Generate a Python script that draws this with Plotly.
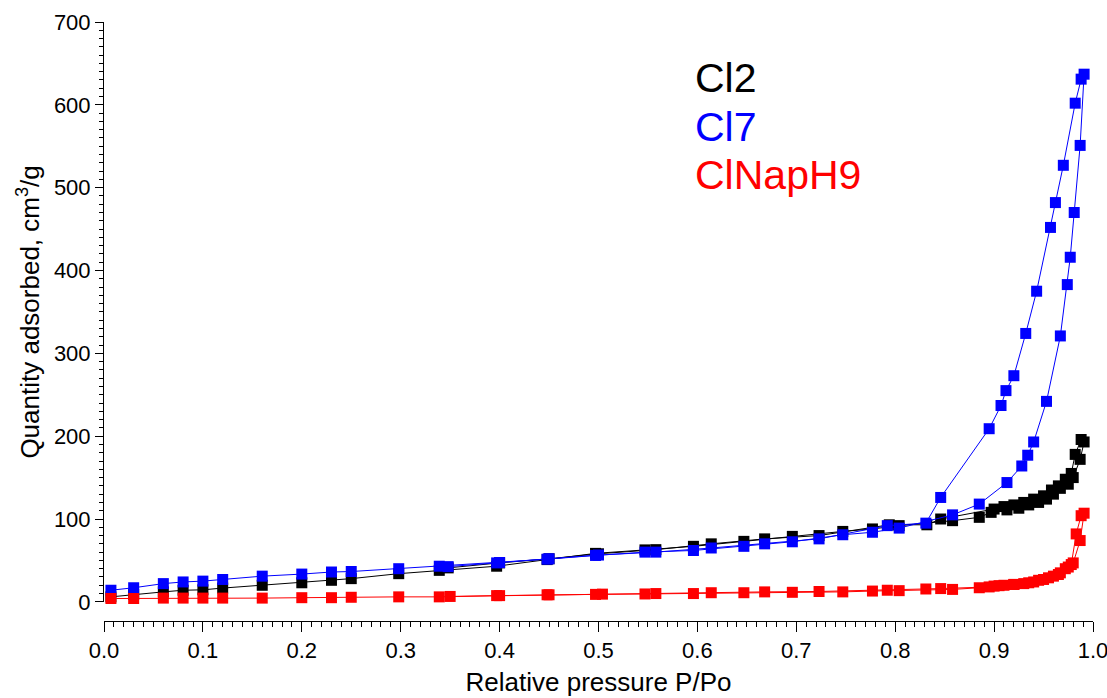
import plotly.graph_objects as go

# ---- data ----
cl2_ads_x = [0.007, 0.030, 0.060, 0.080, 0.100, 0.120, 0.160, 0.200, 0.230, 0.250, 0.298, 0.339, 0.397, 0.448,
             0.497, 0.547, 0.596, 0.647, 0.696, 0.747, 0.777, 0.804, 0.858, 0.885, 0.897, 0.913, 0.925, 0.935,
             0.945, 0.953, 0.960, 0.967, 0.975, 0.980, 0.987, 0.991]
cl2_ads_y = [6, 9, 12, 14, 14.5, 16.6, 20, 23, 26, 28, 34, 38, 43, 51,
             58.5, 62.7, 67, 73, 79, 85, 88, 92, 98, 102, 108, 111, 113, 117,
             120, 124, 130, 137, 142, 150, 172, 193]
cl2_des_x = [0.988, 0.982, 0.978, 0.972, 0.965, 0.958, 0.950, 0.940, 0.930, 0.920, 0.910, 0.900, 0.846, 0.832,
             0.794, 0.723, 0.668, 0.614, 0.558, 0.500, 0.450, 0.400, 0.348]
cl2_des_y = [196, 178, 155, 148, 140, 135, 128, 124, 120, 117, 115, 112, 100, 93,
             93, 80, 76, 70, 63, 58, 52, 47, 41]

cl7_ads_x = [0.007, 0.030, 0.060, 0.080, 0.100, 0.120, 0.160, 0.200, 0.230, 0.250, 0.298, 0.339, 0.397, 0.448,
             0.497, 0.547, 0.596, 0.647, 0.696, 0.747, 0.777, 0.804, 0.858, 0.885, 0.913, 0.928, 0.934, 0.940,
             0.953, 0.967, 0.974, 0.977, 0.981, 0.987, 0.991]
cl7_ads_y = [14, 17, 22, 24, 25, 27, 31, 33.5, 36, 36.6, 40, 43, 47, 51.5,
             56, 60, 62, 67, 72.5, 81, 84, 89, 105, 118, 144, 164, 177, 193,
             242, 321, 383, 416, 470, 551, 637]
cl7_des_x = [0.988, 0.982, 0.970, 0.962, 0.957, 0.943, 0.932, 0.920, 0.912, 0.907, 0.895, 0.846, 0.831, 0.792,
             0.723, 0.668, 0.614, 0.558, 0.500, 0.450, 0.400, 0.348]
cl7_des_y = [631, 602, 527, 482, 452, 375, 324, 273, 255, 237, 209, 126, 95, 92,
             76, 70, 65, 60, 56.5, 52, 47.5, 42.5]

clnap_ads_x = [0.007, 0.030, 0.060, 0.080, 0.100, 0.120, 0.160, 0.200, 0.230, 0.250, 0.298, 0.339, 0.397, 0.448,
               0.497, 0.547, 0.596, 0.647, 0.696, 0.747, 0.777, 0.804, 0.858, 0.885, 0.900, 0.910, 0.920, 0.930,
               0.940, 0.950, 0.960, 0.967, 0.975, 0.980, 0.987, 0.991]
clnap_ads_y = [4, 4, 4.5, 4.5, 4.5, 4.5, 4.5, 5, 5, 5.5, 6, 6, 7.5, 8.5,
               9, 9.5, 10, 11, 11.5, 12, 13, 13.5, 15, 17, 19, 20, 21, 22,
               24, 27, 31, 35, 42, 47, 74, 107]
clnap_des_x = [0.988, 0.983, 0.978, 0.972, 0.965, 0.955, 0.945, 0.935, 0.920, 0.905, 0.895, 0.846, 0.831, 0.792,
               0.723, 0.668, 0.614, 0.558, 0.504, 0.450, 0.400, 0.350]
clnap_des_y = [104, 82, 45, 40, 33, 29, 26, 23, 21, 19.5, 18, 16, 15.5, 14,
               12.5, 12, 11, 10, 9.3, 8.5, 7.5, 6.5]

series_names = ["Cl2", "Cl7", "ClNapH9"]
series_colors = ["#000000", "#0000ff", "#ff0000"]
x_ticks = [0.0, 0.1, 0.2, 0.3, 0.4, 0.5, 0.6, 0.7, 0.8, 0.9, 1.0]
y_ticks = [0, 100, 200, 300, 400, 500, 600, 700]

FONT = "Liberation Sans, Arial, sans-serif"

fig = go.Figure()
data = [
    (cl2_ads_x, cl2_ads_y, cl2_des_x, cl2_des_y),
    (cl7_ads_x, cl7_ads_y, cl7_des_x, cl7_des_y),
    (clnap_ads_x, clnap_ads_y, clnap_des_x, clnap_des_y),
]
for (ax, ay, dx, dy), name, col in zip(data, series_names, series_colors):
    for xs, ys in ((ax, ay), (dx, dy)):
        fig.add_trace(go.Scatter(
            x=xs, y=ys, mode="lines+markers", name=name, showlegend=False,
            line=dict(color=col, width=1),
            marker=dict(symbol="square", size=11, color=col, line=dict(width=0)),
            cliponaxis=False,
        ))

# legend as coloured text
legend_y = [632, 573, 515]
for name, col, ly in zip(series_names, series_colors, legend_y):
    fig.add_annotation(x=0.596, y=ly, xref="x", yref="y", text=name, showarrow=False,
                       xanchor="left", yanchor="middle",
                       font=dict(family=FONT, size=41, color=col))

fig.update_layout(
    width=1107, height=698,
    margin=dict(l=104, r=14, t=22, b=77),
    paper_bgcolor="white", plot_bgcolor="white",
    font=dict(family=FONT, color="black"),
    showlegend=False,
)
fig.update_xaxes(
    range=[0, 1.0], anchor="free", position=0, automargin=False,
    ticklabeloverflow="allow",
    tickmode="array", tickvals=x_ticks, ticktext=[f"{v:.1f}" for v in x_ticks],
    ticks="outside", ticklen=10, tickwidth=1, tickcolor="black",
    minor=dict(dtick=0.01, ticks="outside", ticklen=5, tickwidth=1, tickcolor="black", showgrid=False),
    showline=True, linecolor="black", linewidth=1,
    showgrid=False, zeroline=False,
    tickfont=dict(family=FONT, size=22, color="black"),
    title=dict(text="Relative pressure P/Po", font=dict(family=FONT, size=26, color="black"), standoff=10),
)
fig.update_yaxes(
    range=[0, 700], domain=[0.032, 1], automargin=False,
    ticklabeloverflow="allow",
    tickmode="array", tickvals=y_ticks, ticktext=[str(v) for v in y_ticks],
    ticks="outside", ticklen=8, tickwidth=1, tickcolor="black",
    minor=dict(dtick=10, ticks="outside", ticklen=4, tickwidth=1, tickcolor="black", showgrid=False),
    showline=True, linecolor="black", linewidth=1,
    showgrid=False, zeroline=False,
    tickfont=dict(family=FONT, size=22, color="black"),
    title=dict(text="Quantity adsorbed, cm<sup>3</sup>/g", font=dict(family=FONT, size=26, color="black"), standoff=6),
)

fig.write_html("out.html")
